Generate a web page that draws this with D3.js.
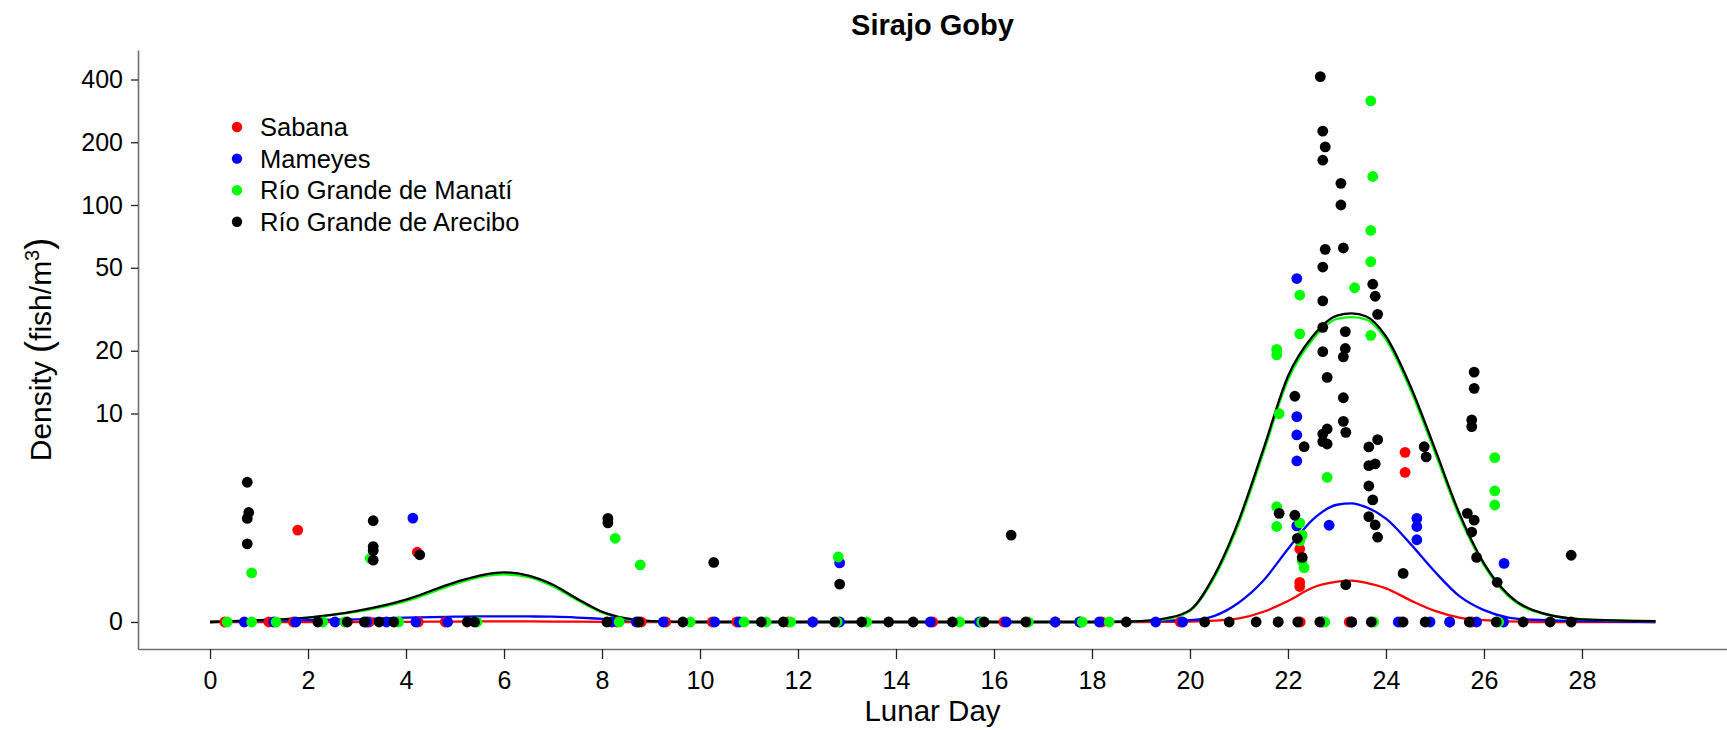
<!DOCTYPE html>
<head>
  <meta charset="utf-8">
  <script src="https://d3js.org/d3.v7.min.js"></script>
  <style>
    body { margin: 0; background: #fff; }
    text { font-family: "Liberation Sans", Arial, sans-serif; fill: #000; }
    .axis path { stroke: #707070; stroke-width: 1.6px; }
    .axis line { stroke: #222; stroke-width: 1.3px; }
    .curve { fill: none; stroke-width: 2.3px; }
  </style>
</head>

<body>
  <script>

    // Lunar day ticks and the density ticks (log axis, "0" sits on the baseline)
    var xTicks = [0, 2, 4, 6, 8, 10, 12, 14, 16, 18, 20, 22, 24, 26, 28];
    var yTicks = [1, 10, 20, 50, 100, 200, 400];
    var yTickLabels = ["0", "10", "20", "50", "100", "200", "400"];

    var rivers = ["Sabana", "Mameyes", "Río Grande de Manatí", "Río Grande de Arecibo"];
    var colors = ["#ff0000", "#0000ff", "#00ff00", "#000000"];

    // fitted curves
    var curveDay = [0, 1, 2, 3, 4, 5, 5.5, 6, 6.5, 7, 7.5, 8, 8.5, 9,
      10, 11, 12, 13, 14, 15, 16, 17, 18,
      19, 19.5, 20, 20.5, 21, 21.5, 22, 22.5, 23,
      23.3, 23.6, 24, 24.5, 25, 25.5, 26, 26.5, 27, 28, 29.5];
    var sabanaFit = [1, 1, 1, 1, 1.002, 1.005, 1.006, 1.007, 1.006, 1.005, 1.003, 1.001, 1, 1,
      1, 1, 1, 1, 1, 1, 1, 1, 1,
      1, 1.002, 1.005, 1.015, 1.04, 1.12, 1.26, 1.46, 1.56,
      1.58, 1.54, 1.45, 1.27, 1.13, 1.05, 1.02, 1.007, 1, 1, 1];
    var mameyesFit = [1, 1.01, 1.02, 1.03, 1.05, 1.06, 1.063, 1.065, 1.063, 1.06, 1.05, 1.035, 1.02, 1.01,
      1, 1, 1, 1, 1, 1, 1, 1, 1,
      1.01, 1.015, 1.02, 1.07, 1.24, 1.58, 2.24, 3.09, 3.65,
      3.71, 3.55, 3.13, 2.37, 1.74, 1.33, 1.14, 1.05, 1.025, 1.01, 1];
    var manatiFit = [1, 1.02, 1.05, 1.12, 1.26, 1.52, 1.64, 1.69, 1.64, 1.48, 1.27, 1.11, 1.03, 1.01,
      1, 1, 1, 1, 1, 1, 1, 1, 1,
      1.01, 1.03, 1.13, 1.64, 2.98, 6.5, 14.5, 22.6, 28.4,
      29.0, 28.2, 22.6, 13.0, 6.5, 3.2, 1.87, 1.33, 1.13, 1.03, 1.01];
    var areciboFit = [1, 1.02, 1.05, 1.13, 1.28, 1.55, 1.67, 1.73, 1.67, 1.51, 1.29, 1.12, 1.04, 1.01,
      1, 1, 1, 1, 1, 1, 1, 1, 1,
      1.01, 1.04, 1.14, 1.68, 3.09, 6.76, 15.1, 23.4, 29.5,
      30.2, 29.2, 23.4, 13.5, 6.76, 3.31, 1.91, 1.35, 1.14, 1.03, 1.01];

    // samples with fish: [lunar day, density]
    var sabanaCatch = [[1.79, 2.76], [4.23, 2.16], [22.24, 2.24], [22.24, 1.55], [22.24, 1.48],
      [24.39, 6.51], [24.39, 5.22]];
    var mameyesCatch = [[4.14, 3.15], [12.85, 1.92], [22.18, 44.4], [22.18, 9.66], [22.18, 7.89],
      [22.18, 5.92], [22.18, 2.89], [22.84, 2.91], [24.63, 3.14], [24.63, 2.87], [24.63, 2.48],
      [26.41, 1.91]];
    var manatiCatch = [[0.85, 1.72], [3.27, 2.02], [8.27, 2.52], [8.78, 1.88], [12.82, 2.05],
      [21.77, 20.3], [21.77, 19.1], [21.82, 9.98], [21.77, 3.57], [21.77, 2.87], [22.24, 37.0],
      [22.24, 24.1], [22.24, 2.99], [22.29, 2.61], [22.24, 2.45], [22.29, 1.96], [22.33, 1.82],
      [22.80, 4.94], [23.36, 40.1], [23.69, 316], [23.73, 137], [23.69, 75.5], [23.69, 53.5],
      [23.69, 23.7], [26.22, 6.14], [26.22, 4.25], [26.22, 3.64]];
    var areciboCatch = [[0.76, 4.68], [0.79, 3.35], [0.76, 3.14], [0.76, 2.37], [3.33, 3.06],
      [3.33, 2.30], [3.33, 2.20], [3.33, 1.98], [4.28, 2.10], [8.12, 3.14], [8.12, 2.99],
      [10.28, 1.93], [12.85, 1.52], [16.35, 2.61],
      [22.66, 413], [22.71, 226], [22.76, 190], [22.71, 164], [23.08, 127], [23.08, 100],
      [22.76, 61.3], [23.13, 62.2], [22.71, 50.4], [23.73, 41.7], [23.78, 36.5], [22.71, 34.7],
      [23.83, 29.9], [22.71, 25.9], [23.17, 24.7], [22.71, 19.8], [23.17, 20.5], [23.13, 18.7],
      [22.80, 14.9], [22.14, 12.1], [23.13, 11.9], [23.13, 9.17], [23.18, 8.12], [22.80, 8.43],
      [22.71, 7.97], [22.71, 7.33], [22.80, 7.14], [22.33, 6.93], [23.65, 6.91], [23.83, 7.49],
      [23.65, 5.62], [23.78, 5.73], [23.65, 4.49], [23.73, 3.85], [23.65, 3.20], [23.78, 2.92],
      [23.83, 2.55], [24.78, 6.93], [24.82, 6.19], [25.80, 15.8], [25.80, 13.2], [25.75, 9.31],
      [25.75, 8.65], [25.66, 3.32], [25.80, 3.08], [25.75, 2.70], [25.85, 2.04], [26.27, 1.55],
      [27.78, 2.09], [24.35, 1.71], [23.18, 1.51], [21.82, 3.32], [22.14, 3.25], [22.19, 2.52],
      [22.29, 2.04]];

    // samples with no fish (lunar day)
    var sabanaZeroDays = [0.3, 1.2, 1.7, 3.25, 4.25, 4.8, 8.3, 8.8, 9.3, 10.25, 10.75, 11.8, 12.3,
      14.75, 16.2, 17.25, 17.75, 18.2, 19.8, 21.8, 22.25, 23.25, 24.3, 25.3, 25.75];
    var mameyesZeroDays = [0.7, 1.3, 1.75, 2.55, 3.2, 3.6, 4.2, 4.85, 8.2, 8.7, 9.25, 10.3, 10.8,
      12.3, 12.85, 14.7, 15.7, 16.25, 17.25, 17.75, 18.15, 19.3, 19.85, 22.7, 23.3, 24.25, 24.9,
      25.3, 25.85, 26.4];
    var manatiZeroDays = [0.35, 0.85, 1.35, 2.3, 2.75, 3.85, 5.45, 8.35, 9.8, 10.9, 11.35, 11.85,
      12.8, 13.4, 15.3, 15.75, 16.7, 17.8, 18.35, 22.75, 23.75, 26.3];
    var areciboZeroDays = [2.2, 2.8, 3.15, 3.45, 3.75, 5.25, 5.4, 8.1, 8.75, 9.65, 11.25, 11.7,
      12.75, 13.3, 13.85, 14.35, 15.15, 15.8, 16.65, 18.7, 20.3, 20.8, 21.35, 21.8, 22.2, 22.65,
      23.3, 23.7, 24.35, 24.8, 25.7, 26.25, 26.8, 27.35, 27.78];

    var fits = [sabanaFit, mameyesFit, manatiFit, areciboFit];
    var catches = [sabanaCatch, mameyesCatch, manatiCatch, areciboCatch];
    var zeroDays = [sabanaZeroDays, mameyesZeroDays, manatiZeroDays, areciboZeroDays];

    var svg = d3.select("body").append("svg")
      .attr("width", 1727)
      .attr("height", 730);

    var panelLeft = 138, panelTop = 50, panelBottom = 649, panelRight = 1727;

    var x = d3.scaleLinear()
      .domain([-1.47, 30.96])
      .range([panelLeft, panelRight]);

    var y = d3.scaleLog()
      .domain([0.742, 554])
      .range([panelBottom, panelTop]);

    // zero densities sit on the "0" line
    function yPos(v) { return y(v > 1 ? v : 1); }

    svg.append("g")
      .attr("class", "axis")
      .attr("transform", "translate(0," + panelBottom + ")")
      .call(d3.axisBottom(x).tickValues(xTicks).tickSize(10).tickSizeOuter(0).tickPadding(12))
      .call(function(g) {
        g.selectAll("text").style("font-size", "25px").style("font-family", null);
      });

    svg.append("g")
      .attr("class", "axis")
      .attr("transform", "translate(" + panelLeft + ",0)")
      .call(d3.axisLeft(y).tickValues(yTicks).tickSize(7).tickSizeOuter(0).tickPadding(8)
        .tickFormat(function(d, i) { return yTickLabels[i]; }))
      .call(function(g) {
        g.selectAll("text").style("font-size", "25px").style("font-family", null);
      });

    var line = d3.line()
      .x(function(d) { return x(d[0]); })
      .y(function(d) { return yPos(d[1]); })
      .curve(d3.curveMonotoneX);

    fits.forEach(function(f, i) {
      svg.append("path")
        .attr("class", "curve")
        .attr("stroke", colors[i])
        .attr("d", line(curveDay.map(function(dd, j) { return [dd, f[j]]; })));
    });

    catches.forEach(function(c, i) {
      var pts = zeroDays[i].map(function(dd) { return [dd, 0]; }).concat(c);
      svg.append("g").selectAll("circle")
        .data(pts)
        .enter()
        .append("circle")
        .attr("cx", function(d) { return x(d[0]); })
        .attr("cy", function(d) { return yPos(d[1]); })
        .attr("r", 5.4)
        .style("fill", colors[i]);
    });

    // legend
    var legend = svg.append("g").selectAll("g")
      .data(rivers)
      .enter()
      .append("g")
      .attr("transform", function(d, i) { return "translate(237," + (127 + i * 31.6) + ")"; });
    legend.append("circle")
      .attr("r", 5.2)
      .style("fill", function(d, i) { return colors[i]; });
    legend.append("text")
      .attr("x", 23)
      .attr("dy", "0.35em")
      .style("font-size", "25.5px")
      .text(function(d) { return d; });

    svg.append("text")
      .attr("x", (panelLeft + panelRight) / 2)
      .attr("y", 35)
      .attr("text-anchor", "middle")
      .style("font-size", "29px")
      .style("font-weight", "bold")
      .text("Sirajo Goby");

    svg.append("text")
      .attr("x", (panelLeft + panelRight) / 2)
      .attr("y", 721)
      .attr("text-anchor", "middle")
      .style("font-size", "29.5px")
      .text("Lunar Day");

    var yTitle = svg.append("text")
      .attr("transform", "translate(51," + ((panelTop + panelBottom) / 2) + ") rotate(-90)")
      .attr("text-anchor", "middle")
      .style("font-size", "30px");
    yTitle.append("tspan").text("Density ");
    yTitle.append("tspan").style("font-size", "36px").text("(");
    yTitle.append("tspan").text("fish/m");
    yTitle.append("tspan").attr("dy", -12).style("font-size", "20px").text("3");
    yTitle.append("tspan").attr("dy", 12).style("font-size", "36px").text(")");

  </script>
</body>
